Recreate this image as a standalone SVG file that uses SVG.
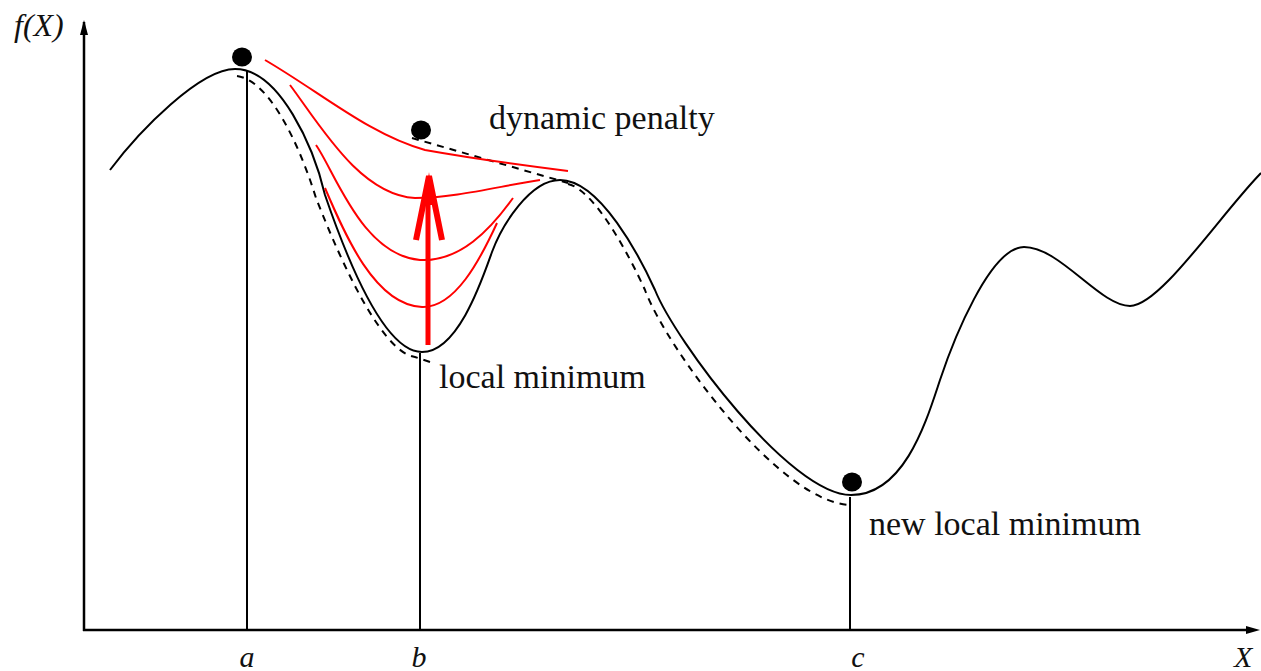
<svg xmlns="http://www.w3.org/2000/svg" width="1261" height="671" viewBox="0 0 1261 671">
<style>
.ax{stroke:#000;stroke-width:2.5;fill:none}
.vl{stroke:#000;stroke-width:2;fill:none}
.cv{stroke:#000;stroke-width:2;fill:none}
.ds{stroke:#000;stroke-width:2;fill:none;stroke-dasharray:7 6}
.rd{stroke:#ff0000;stroke-width:2;fill:none}
.t{font-family:"Liberation Serif","Times New Roman",serif;font-size:34px;fill:#111}
.ti{font-family:"Liberation Serif","Times New Roman",serif;font-size:30px;font-style:italic;fill:#111}
</style>
<rect width="1261" height="671" fill="#fff"/>
<g id="axes">
<line class="ax" x1="84" y1="22" x2="84" y2="631"/>
<line class="ax" x1="83" y1="630" x2="1250" y2="630"/>
<polygon points="84,20 88,35 80,35" fill="#000"/>
<polygon points="1260,630 1246,626 1246,634" fill="#000"/>
</g>
<g id="verticals">
<line class="vl" x1="247" y1="70" x2="247" y2="630"/>
<line class="vl" x1="420" y1="353" x2="420" y2="630"/>
<line class="vl" x1="850" y1="497" x2="850" y2="630"/>
</g>
<g id="curve">
<path class="cv" d="M110,170 C140,130 200,69 235,69 C280,69 314,148 325,195 C348,262 385,352 422,352 C458,352 482,280 492,252 C502,225 530,180 560,180 C600,180 640,257 655,290 C675,340 790,495 851,495 C905,495 927,419 940,380 C953,341 990,247 1024,247 C1060,247 1100,306 1130,306 C1160,306 1220,215 1261,173"/>
</g>
<g id="dashed">
<path class="ds" d="M237,76 C268,80 298,140 316,198 C332,239 378,352 415,357 L433,363"/>
<path class="ds" d="M412,138 L568,183"/>
<path class="ds" d="M568,184 C595,190 630,257 645,290 C665,345 780,505 852,505"/>
</g>
<g id="penalty-curves">
<path class="rd" d="M265,60 C320,92 370,135 425,150 C470,158 520,165 568,171"/>
<path class="rd" d="M290,85 C320,125 360,195 415,198 C455,198 500,186 540,180"/>
<path class="rd" d="M316,145 C335,172 362,255 420,260 C460,262 490,230 513,198"/>
<path class="rd" d="M325,188 C345,235 375,305 422,307 C455,308 480,260 497,223"/>
</g>
<g id="arrow">
<line x1="428" y1="345" x2="428" y2="190" stroke="#ff0000" stroke-width="5"/>
<polyline points="416,240 429,176 442,240" fill="none" stroke="#ff0000" stroke-width="6" stroke-linejoin="miter"/>
<polygon points="429,172 424,205 434,205" fill="#ff0000"/>
</g>
<g id="dots">
<ellipse cx="242" cy="57" rx="10" ry="9.5" fill="#000"/>
<ellipse cx="421" cy="130" rx="10" ry="9.5" fill="#000"/>
<ellipse cx="852" cy="482" rx="10" ry="9.5" fill="#000"/>
</g>
<g id="labels">
<text class="ti" x="14" y="36" style="font-size:32px">f(X)</text>
<text class="t" x="489" y="129">dynamic penalty</text>
<text class="t" x="439" y="388">local minimum</text>
<text class="t" x="869" y="535">new local minimum</text>
<text class="ti" x="247" y="667" text-anchor="middle">a</text>
<text class="ti" x="419" y="667" text-anchor="middle">b</text>
<text class="ti" x="858" y="667" text-anchor="middle">c</text>
<text class="ti" x="1234" y="667">X</text>
</g>
</svg>
